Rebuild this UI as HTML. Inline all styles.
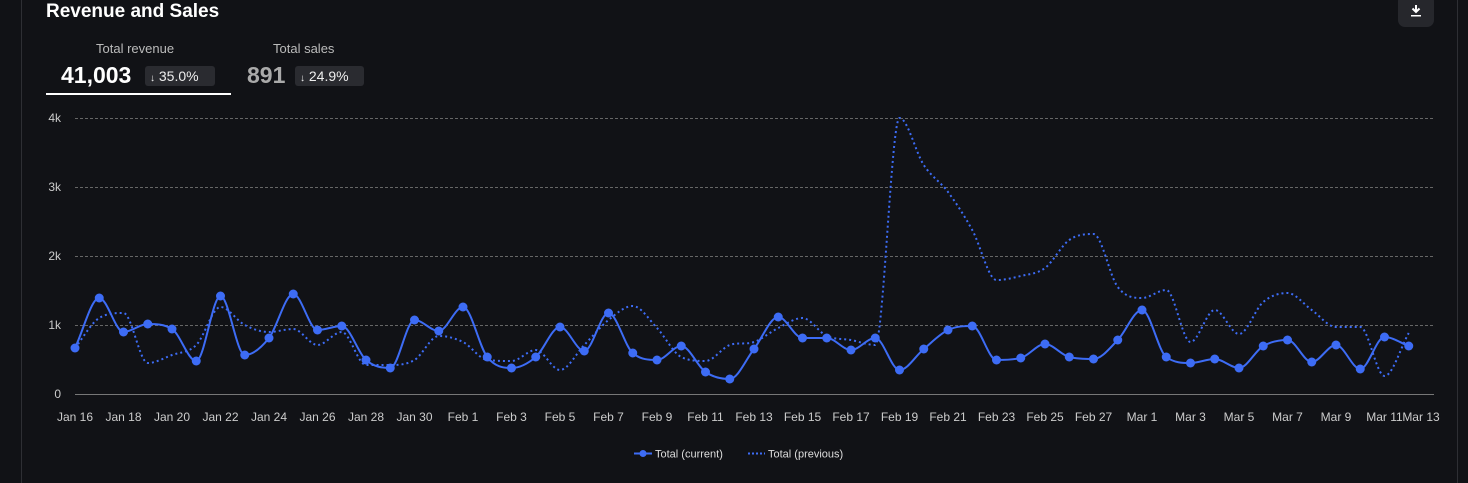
<!DOCTYPE html>
<html><head><meta charset="utf-8"><style>
body{margin:0;background:#111216;width:1468px;height:483px;overflow:hidden;font-family:"Liberation Sans",sans-serif;color:#fff;position:relative}
.t{position:absolute}
</style></head><body>
<div class="t" style="left:21px;top:0;width:1px;height:483px;background:#2e2f34"></div>
<div class="t" style="left:1457px;top:0;width:1px;height:483px;background:#2e2f34"></div>
<div class="t" style="left:46px;top:1px;font-size:19px;font-weight:bold;">Revenue and Sales</div>
<div class="t" style="left:1398px;top:-6px;width:36px;height:33px;background:#26272c;border-radius:7px;"></div>
<svg class="t" style="left:1408px;top:3px" width="16" height="14"><path d="M8 2v6M4.5 5.5L8 9l3.5-3.5" stroke="#fff" stroke-width="2" fill="none"/><rect x="3" y="12" width="10" height="1.5" fill="#fff"/></svg>
<div class="t" style="left:96px;top:41px;font-size:13px;color:#bbb">Total revenue</div>
<div class="t" style="left:273px;top:41px;font-size:13px;color:#bbb">Total sales</div>
<div class="t" style="left:61px;top:62px;font-size:23px;font-weight:bold">41,003</div>
<div class="t" style="left:145px;top:66px;width:70px;height:20px;background:#2a2b30;border-radius:3px;font-size:14px;line-height:20px;color:#eee;text-indent:5px"><span style="font-size:10px">↓</span> 35.0%</div>
<div class="t" style="left:247px;top:62px;font-size:23px;font-weight:bold;color:#aaa">891</div>
<div class="t" style="left:295px;top:66px;width:69px;height:20px;background:#2a2b30;border-radius:3px;font-size:14px;line-height:20px;color:#eee;text-indent:5px"><span style="font-size:10px">↓</span> 24.9%</div>
<div class="t" style="left:46px;top:93px;width:185px;height:2px;background:#fff"></div>
<svg class="t" style="left:0;top:0" width="1468" height="483" id="s">
<g font-size="12" fill="#ccc" text-anchor="end">
<text x="61" y="122">4k</text><text x="61" y="191">3k</text><text x="61" y="260">2k</text><text x="61" y="329">1k</text><text x="61" y="398">0</text>
</g>
<g stroke="#666" stroke-dasharray="3,2" stroke-width="1">
<line x1="75" x2="1434" y1="118.5" y2="118.5"/><line x1="75" x2="1434" y1="187.5" y2="187.5"/><line x1="75" x2="1434" y1="256.5" y2="256.5"/><line x1="75" x2="1434" y1="325.5" y2="325.5"/>
</g>
<line x1="75" x2="1434" y1="394.5" y2="394.5" stroke="#777"/>
<g id="xl" font-size="12" fill="#ccc" text-anchor="middle"></g>
<path id="prev" fill="none" stroke="#3d6cf5" stroke-width="2" stroke-dasharray="2,3"/>
<path id="cur" fill="none" stroke="#3d6cf5" stroke-width="2"/>
<g id="dots" fill="#3d6cf5"></g>
<line x1="634" x2="652" y1="453.5" y2="453.5" stroke="#3d6cf5" stroke-width="2"/><circle cx="643" cy="453.5" r="3.5" fill="#3d6cf5"/>
<text x="655" y="457.5" font-size="11" fill="#ddd">Total (current)</text>
<line x1="748" x2="765" y1="453.5" y2="453.5" stroke="#3d6cf5" stroke-width="2" stroke-dasharray="2,2"/>
<text x="768" y="457.5" font-size="11" fill="#ddd">Total (previous)</text>
</svg>
<script>
var cur=[348,298,332,324,329,361,296,355,338,294,330,326,360,368,320,331,307,357,368,357,327,351,313,353,360,346,372,379,349,317,338,338,350,338,370,349,330,326,360,358,344,357,359,340,310,357,363,359,368,346,340,362,345,369,337,346];
var prev=[348,318,313,363,355,345,307,325,332,329,345,332,365,365,360,336,342,360,361,350,370,345,320,306,328,357,361,345,342,328,318,336,340,345,118,165,192,230,280,276,268,240,234,287,298,290,342,310,334,302,293,310,327,327,376,333];
var s=24.25,x0=75;
function X(i){return x0+i*s}
function mono(ys){var n=ys.length,d=[],m=[];for(var i=0;i<n-1;i++)d.push((ys[i+1]-ys[i])/s);
m[0]=d[0];m[n-1]=d[n-2];for(i=1;i<n-1;i++){m[i]=(d[i-1]*d[i]<=0)?0:(d[i-1]+d[i])/2;
var a=m[i]/d[i-1],b=m[i]/d[i];var t=a*a+b*b;if(t>9){t=3/Math.sqrt(t);m[i]=t*(d[i-1]+d[i])/2;}}
var p="M"+X(0)+","+ys[0];for(i=0;i<n-1;i++){p+="C"+(X(i)+s/3)+","+(ys[i]+m[i]*s/3)+" "+(X(i+1)-s/3)+","+(ys[i+1]-m[i+1]*s/3)+" "+X(i+1)+","+ys[i+1];}return p}
document.getElementById('cur').setAttribute('d',mono(cur));
document.getElementById('prev').setAttribute('d',mono(prev));
var g=document.getElementById('dots'),h='';cur.forEach(function(y,i){h+='<circle cx="'+X(i)+'" cy="'+y+'" r="4.5"/>'});g.innerHTML=h;
var L=['Jan 16','Jan 18','Jan 20','Jan 22','Jan 24','Jan 26','Jan 28','Jan 30','Feb 1','Feb 3','Feb 5','Feb 7','Feb 9','Feb 11','Feb 13','Feb 15','Feb 17','Feb 19','Feb 21','Feb 23','Feb 25','Feb 27','Mar 1','Mar 3','Mar 5','Mar 7','Mar 9','Mar 11'];
h='';L.forEach(function(t,i){h+='<text x="'+X(i*2)+'" y="421">'+t+'</text>'});
h+='<text x="1421" y="421">Mar 13</text>';document.getElementById('xl').innerHTML=h;
</script>
</body></html>
